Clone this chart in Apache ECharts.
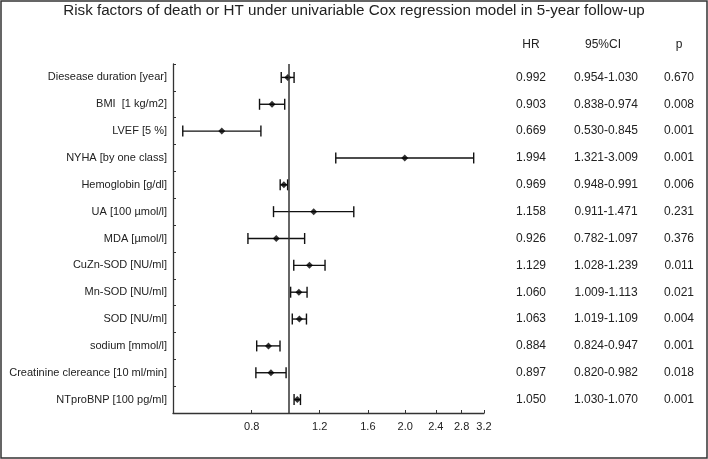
<!DOCTYPE html>
<html>
<head>
<meta charset="utf-8">
<style>html,body{margin:0;padding:0;background:#fff;}#main{width:708px;height:459px;}</style>
<script src="https://cdn.jsdelivr.net/npm/echarts@6/dist/echarts.min.js"></script>
</head>
<body>
<div id="main"></div>
<script>
const categories = [
  'Diesease duration [year]', 'BMI  [1 kg/m2]', 'LVEF [5 %]', 'NYHA [by one class]',
  'Hemoglobin [g/dl]', 'UA [100 µmol/l]', 'MDA [µmol/l]', 'CuZn-SOD [NU/ml]',
  'Mn-SOD [NU/ml]', 'SOD [NU/ml]', 'sodium [mmol/l]', 'Creatinine clereance [10 ml/min]',
  'NTproBNP [100 pg/ml]'
];
const hr    = [0.992, 0.903, 0.669, 1.994, 0.969, 1.158, 0.926, 1.129, 1.060, 1.063, 0.884, 0.897, 1.050];
const lower = [0.954, 0.838, 0.530, 1.321, 0.948, 0.911, 0.782, 1.028, 1.009, 1.019, 0.824, 0.820, 1.030];
const upper = [1.030, 0.974, 0.845, 3.009, 0.991, 1.471, 1.097, 1.239, 1.113, 1.109, 0.947, 0.982, 1.070];
const pValues = ['0.670', '0.008', '0.001', '0.001', '0.006', '0.231', '0.376', '0.011', '0.021', '0.004', '0.001', '0.018', '0.001'];
const xTickLabels = [0.8, 1.2, 1.6, 2.0, 2.4, 2.8, 3.2];
const xMin = 0.5, xMax = 3.2, refValue = 1;

const FONT = '"Liberation Sans", Arial, sans-serif';
const TXT = '#222';
const LINE = '#333';
const ln = Math.log;

const chart = echarts.init(document.getElementById('main'), null, {renderer: 'canvas'});

function tableAxis(offset, fmt) {
  return {
    type: 'category', data: categories, inverse: true, gridIndex: 0,
    position: 'right', offset: offset,
    axisLine: {show: false, onZero: false}, axisTick: {show: false}, splitLine: {show: false},
    axisLabel: {margin: 0, align: 'center', fontSize: 12, color: TXT, fontFamily: FONT, formatter: fmt}
  };
}

const option = {
  animation: false,
  backgroundColor: '#fff',
  title: {
    text: 'Risk factors of death or HT under univariable Cox regression model in 5-year follow-up',
    left: 'center', top: 3, padding: 0,
    textStyle: {fontSize: 15.2, fontWeight: 'normal', color: TXT, fontFamily: FONT}
  },
  grid: {left: 173, right: 224, top: 64, bottom: 46, containLabel: false},
  xAxis: {
    type: 'value', min: ln(xMin), max: ln(xMax),
    axisLine: {show: true, onZero: false, lineStyle: {color: LINE, width: 1.3}},
    axisTick: {show: true, inside: true, length: 3, lineStyle: {color: LINE}, customValues: xTickLabels.map(ln)},
    axisLabel: {customValues: xTickLabels.map(ln), fontSize: 11, color: TXT, fontFamily: FONT, margin: 8,
      formatter: v => Math.exp(v).toFixed(1)},
    splitLine: {show: false}
  },
  yAxis: [
    {
      type: 'category', data: categories, inverse: true, position: 'left',
      axisLine: {show: true, onZero: false, lineStyle: {color: LINE, width: 1.3}},
      axisTick: {show: true, inside: true, length: 3, lineStyle: {color: LINE}},
      axisLabel: {fontSize: 11, color: TXT, fontFamily: FONT, margin: 6},
      splitLine: {show: false}
    },
    tableAxis(47, (v, i) => hr[i].toFixed(3)),
    tableAxis(122, (v, i) => lower[i].toFixed(3) + '-' + upper[i].toFixed(3)),
    tableAxis(195, (v, i) => pValues[i])
  ],
  graphic: [
    {type: 'rect', shape: {x: 1, y: 1, width: 706, height: 457}, style: {fill: null, stroke: LINE, lineWidth: 1.5}, silent: true},
    {type: 'text', x: 531, y: 45, style: {text: 'HR', fill: TXT, font: '12px ' + FONT, align: 'center', verticalAlign: 'middle'}},
    {type: 'text', x: 603, y: 45, style: {text: '95%CI', fill: TXT, font: '12px ' + FONT, align: 'center', verticalAlign: 'middle'}},
    {type: 'text', x: 679, y: 45, style: {text: 'p', fill: TXT, font: '12px ' + FONT, align: 'center', verticalAlign: 'middle'}}
  ],
  series: [
    {
      type: 'custom', yAxisIndex: 0,
      data: categories.map((c, i) => [ln(lower[i]), ln(upper[i]), i]),
      encode: {x: [0, 1], y: 2},
      renderItem: (params, api) => {
        const a = api.coord([api.value(0), api.value(2)]);
        const b = api.coord([api.value(1), api.value(2)]);
        const h = 5.5;
        const st = {stroke: '#111', lineWidth: 1.4, fill: null};
        return {type: 'group', children: [
          {type: 'line', shape: {x1: a[0], y1: a[1], x2: b[0], y2: b[1]}, style: st},
          {type: 'line', shape: {x1: a[0], y1: a[1] - h, x2: a[0], y2: a[1] + h}, style: st},
          {type: 'line', shape: {x1: b[0], y1: b[1] - h, x2: b[0], y2: b[1] + h}, style: st}
        ]};
      },
      z: 2
    },
    {
      type: 'scatter', yAxisIndex: 0,
      data: categories.map((c, i) => [ln(hr[i]), i]),
      symbol: 'diamond', symbolSize: 7,
      itemStyle: {color: '#000'},
      z: 3,
      markLine: {
        silent: true, symbol: 'none', label: {show: false},
        lineStyle: {color: LINE, width: 1.5, type: 'solid'},
        data: [{xAxis: ln(refValue)}]
      }
    }
  ]
};
chart.setOption(option);
</script>
</body>
</html>
